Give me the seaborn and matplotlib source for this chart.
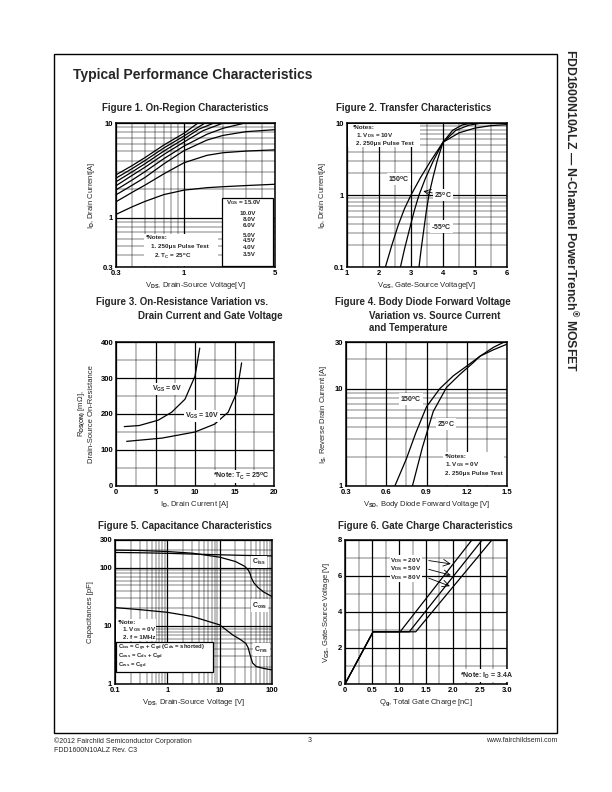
import numpy as np
import matplotlib
matplotlib.use("Agg")
import matplotlib.pyplot as plt
import matplotlib.ticker as mticker
from matplotlib.patches import Rectangle
import seaborn as sns

sns.set_theme(style="white")
plt.rcParams['font.family'] = ['Liberation Sans', 'DejaVu Sans']
plt.rcParams['font.weight'] = 'bold'
plt.rcParams['mathtext.fontset'] = 'custom'
plt.rcParams['mathtext.rm'] = 'Liberation Sans:bold'
plt.rcParams['mathtext.bf'] = 'Liberation Sans:bold'
plt.rcParams['mathtext.default'] = 'bf'

# ---- Figure 1: on-region, I_D vs V_DS per V_GS
vgs_labels = ['15.0V', '10.0V', '8.0V', '6.0V', '5.0V', '4.5V', '4.0V', '3.5V']
f1_x = [
    [0.3, 0.4, 0.5, 0.7, 1.0, 1.28],
    [0.3, 0.4, 0.5, 0.7, 1.0, 1.45],
    [0.3, 0.4, 0.5, 0.7, 1.0, 1.3, 1.7],
    [0.3, 0.4, 0.5, 0.7, 1.0, 1.4, 2.0],
    [0.3, 0.4, 0.5, 0.7, 1.0, 1.5, 2.0, 2.94],
    [0.3, 0.4, 0.5, 0.7, 1.0, 1.5, 2.0, 3.0, 5.0],
    [0.3, 0.4, 0.5, 0.7, 1.0, 1.5, 2.0, 3.0, 5.0],
    [0.3, 0.4, 0.5, 0.7, 1.0, 1.5, 2.0, 3.0, 5.0],
]
f1_y = [
    [2.83, 3.55, 4.3, 5.85, 7.8, 10],
    [2.61, 3.3, 4.0, 5.45, 7.3, 10],
    [2.39, 3.05, 3.7, 5.05, 6.8, 8.6, 10],
    [2.17, 2.8, 3.4, 4.65, 6.3, 8.3, 10],
    [1.96, 2.5, 3.05, 4.2, 5.7, 7.6, 8.8, 10],
    [1.74, 2.2, 2.65, 3.7, 5.1, 6.6, 7.4, 8.1, 8.5],
    [1.47, 1.85, 2.2, 2.9, 3.8, 4.55, 4.85, 5.05, 5.2],
    [1.08, 1.3, 1.48, 1.75, 1.95, 2.07, 2.12, 2.18, 2.25],
]

# ---- Figure 2: transfer
t150_x = [2.2, 2.4, 2.6, 2.8, 3.0, 3.3, 3.6, 4.0, 4.5, 5.0, 5.5, 6.0]
t150_y = [0.1, 0.2, 0.38, 0.65, 1.0, 1.75, 2.9, 5.4, 7.3, 8.5, 9.2, 9.5]
t25_x = [2.67, 2.8, 2.95, 3.1, 3.25, 3.45, 3.7, 4.0, 4.4, 4.8, 5.2]
t25_y = [0.1, 0.18, 0.33, 0.6, 1.0, 1.7, 3.0, 5.4, 7.9, 9.3, 10]
tm55_x = [3.25, 3.32, 3.4, 3.48, 3.56, 3.68, 3.82, 4.0, 4.3, 4.6, 4.9]
tm55_y = [0.1, 0.18, 0.33, 0.6, 1.0, 1.7, 3.0, 5.4, 7.9, 9.4, 10]

# ---- Figure 3: on-resistance
r6_x = [1.05, 2.95, 5.36, 7.05, 8.73, 10.0, 10.6]
r6_y = [165, 168, 183, 205, 241, 305, 383]
r10_x = [1.35, 5.8, 10.0, 12.5, 14.2, 15.3, 15.9]
r10_y = [124, 133, 150, 172, 205, 260, 342]

# ---- Figure 4: body diode
d150_x = [0.664, 0.75, 0.82, 0.9, 1.0, 1.1, 1.2, 1.3, 1.4, 1.5]
d150_y = [1.0, 1.9, 3.5, 6.5, 10, 13.5, 17, 21.5, 25, 28.5]
d25_x = [0.795, 0.87, 0.95, 1.05, 1.15, 1.25, 1.3, 1.4, 1.48]
d25_y = [1.0, 2.5, 5.8, 10.3, 14, 18.5, 21.5, 26.5, 30]

# ---- Figure 5: capacitance
ciss_x = [0.1, 0.3, 1, 3, 10, 30, 100]
ciss_y = [183, 181, 177, 172, 167, 163, 160]
coss_x = [0.1, 0.3, 1, 3, 10, 20, 30, 35, 38, 40, 45, 55, 70, 100]
coss_y = [201, 198, 190, 178, 152, 128, 106, 92, 80, 68, 55, 45, 38, 32]
crss_x = [0.1, 0.3, 1, 3, 10, 17.7, 25, 31.6, 35, 38, 42.5, 50, 70, 100]
crss_y = [20.6, 19, 17.1, 14.5, 10.4, 7.0, 5.8, 5.0, 4.2, 3.2, 2.3, 2.0, 1.85, 1.75]

# ---- Figure 6: gate charge
qg20 = [0, 0.52, 1.02, 2.35]
qg50 = [0, 0.52, 1.19, 2.54]
qg80 = [0, 0.52, 1.31, 2.72]
vgs_q = [0, 2.9, 2.9, 8.0]

W, H = 612, 792
fig = plt.figure(figsize=(W / 100, H / 100), dpi=100)


def px_axes(l, r, t, b):
    return fig.add_axes([l / W, 1 - b / H, (r - l) / W, (b - t) / H])


def style(ax):
    ax.set_axisbelow(True)
    ax.grid(which='major', color='black', lw=0.9)
    ax.grid(which='minor', color='black', lw=0.35)
    for s in ax.spines.values():
        s.set_color('black')
        s.set_linewidth(1.1)
    ax.tick_params(which='both', length=0, labelsize=5.5, colors='black')
    ax.tick_params(axis='x', pad=2.5)
    ax.tick_params(axis='y', pad=2)
    ax.xaxis.label.set_size(5.5)
    ax.yaxis.label.set_size(5.5)


def log_minor(axis):
    axis.set_minor_locator(mticker.LogLocator(base=10, subs=np.arange(2, 10)))
    axis.set_minor_formatter(mticker.NullFormatter())


def curve(ax, x, y, lw=0.9):
    sns.lineplot(x=x, y=y, ax=ax, color='black', lw=lw, estimator=None,
                 sort=False, legend=False)


def white_box(ax, x0, y0, w, h, edge=False):
    ax.add_patch(Rectangle((x0, y0), w, h, transform=ax.transAxes,
                           facecolor='white', edgecolor='black' if edge else 'none',
                           lw=0.9 if edge else 0, zorder=1.5))


wb = dict(boxstyle='square,pad=0.15', fc='white', ec='none')
wb_tight = dict(boxstyle='square,pad=0.05', fc='white', ec='none')
fs = 5.0   # in-plot labels
nfs = 4.5  # notes / legend text

# header / page
fig.add_artist(Rectangle((54 / W, 1 - 733 / H), (557 - 54) / W, (733 - 54) / H,
                         transform=fig.transFigure, fill=False, ec='black', lw=1))
fig.text(73 / W, 1 - 75 / H, 'Typical Performance Characteristics', fontsize=10,
         va='center', ha='left')
fig.text(571 / W, 1 - 49 / H, 'FDD1600N10ALZ — N-Channel PowerTrench$^{®}$ MOSFET',
         rotation=-90, va='top', ha='center', fontsize=8.8)
fig.text(54 / W, 1 - 741 / H, '©2012 Fairchild Semiconductor Corporation',
         fontsize=5, fontweight='normal', va='center')
fig.text(54 / W, 1 - 750 / H, 'FDD1600N10ALZ Rev. C3', fontsize=5,
         fontweight='normal', va='center')
fig.text(308 / W, 1 - 741 / H, '3', fontsize=5, fontweight='normal', va='center')
fig.text(557 / W, 1 - 741 / H, 'www.fairchildsemi.com', fontsize=5,
         fontweight='normal', va='center', ha='right')

tfs = 7
fig.text(185 / W, 1 - 108 / H, 'Figure 1. On-Region Characteristics', fontsize=tfs,
         ha='center', va='center')
fig.text(414 / W, 1 - 108 / H, 'Figure 2. Transfer Characteristics', fontsize=tfs,
         ha='center', va='center')
fig.text(96 / W, 1 - 302 / H, 'Figure 3. On-Resistance Variation vs.', fontsize=tfs,
         ha='left', va='center')
fig.text(138 / W, 1 - 316 / H, 'Drain Current and Gate Voltage', fontsize=tfs,
         ha='left', va='center')
fig.text(335 / W, 1 - 302 / H, 'Figure 4. Body Diode Forward Voltage', fontsize=tfs,
         ha='left', va='center')
fig.text(369 / W, 1 - 316 / H, 'Variation vs. Source Current', fontsize=tfs,
         ha='left', va='center')
fig.text(369 / W, 1 - 328 / H, 'and Temperature', fontsize=tfs, ha='left', va='center')
fig.text(185 / W, 1 - 526 / H, 'Figure 5. Capacitance Characteristics', fontsize=tfs,
         ha='center', va='center')
fig.text(425 / W, 1 - 526 / H, 'Figure 6. Gate Charge Characteristics', fontsize=tfs,
         ha='center', va='center')

# ---------------- Figure 1
ax1 = px_axes(116, 275, 123, 267)
ax1.set_xscale('log')
ax1.set_yscale('log')
for xs, ys in zip(f1_x, f1_y):
    curve(ax1, xs, ys)
ax1.set_xlim(0.3, 5)
ax1.set_ylim(0.3, 10)
ax1.set_xticks([0.3, 1, 5])
ax1.set_xticklabels(['0.3', '1', '5'])
ax1.set_yticks([0.3, 1, 10])
ax1.set_yticklabels(['0.3', '1', '10'])
log_minor(ax1.xaxis)
log_minor(ax1.yaxis)
style(ax1)
ax1.set_xlabel('V$_{DS}$, Drain-Source Voltage[V]', labelpad=2)
ax1.set_ylabel('I$_{D}$, Drain Current[A]', labelpad=4)
white_box(ax1, 0.668, 0.007, 0.322, 0.469, edge=True)
ax1.text(0.69, 0.448, 'V$_{GS}$ = ' + vgs_labels[0], transform=ax1.transAxes,
         fontsize=nfs, va='center', ha='left', zorder=3)
for lab, yy in zip(vgs_labels[1:], [0.373, 0.332, 0.29, 0.22, 0.181, 0.135, 0.089]):
    ax1.text(0.88, yy, lab, transform=ax1.transAxes, fontsize=nfs, va='center',
             ha='right', zorder=3)
white_box(ax1, 0.173, 0.007, 0.47, 0.225)
ax1.text(0.19, 0.207, '*Notes:', transform=ax1.transAxes, fontsize=nfs, va='center', zorder=3)
ax1.text(0.22, 0.14, '1. 250μs Pulse Test', transform=ax1.transAxes, fontsize=nfs,
         va='center', zorder=3)
ax1.text(0.24, 0.073, '2. T$_{C}$ = 25$^{o}$C', transform=ax1.transAxes, fontsize=nfs,
         va='center', zorder=3)

# ---------------- Figure 2
ax2 = px_axes(347, 507, 123, 267)
ax2.set_yscale('log')
curve(ax2, t150_x, t150_y)
curve(ax2, t25_x, t25_y)
curve(ax2, tm55_x, tm55_y)
ax2.set_xlim(1, 6)
ax2.set_ylim(0.1, 10)
ax2.set_xticks([1, 2, 3, 4, 5, 6])
ax2.xaxis.set_minor_locator(mticker.MultipleLocator(0.5))
ax2.set_yticks([0.1, 1, 10])
ax2.set_yticklabels(['0.1', '1', '10'])
log_minor(ax2.yaxis)
style(ax2)
ax2.set_xlabel('V$_{GS}$, Gate-Source Voltage[V]', labelpad=2)
ax2.set_ylabel('I$_{D}$, Drain Current[A]', labelpad=4)
white_box(ax2, 0.006, 0.83, 0.45, 0.163)
ax2.text(0.037, 0.97, '*Notes:', transform=ax2.transAxes, fontsize=nfs, va='center', zorder=3)
ax2.text(0.057, 0.916, '1. V$_{DS}$ = 10V', transform=ax2.transAxes, fontsize=nfs,
         va='center', zorder=3)
ax2.text(0.057, 0.86, '2. 250μs Pulse Test', transform=ax2.transAxes, fontsize=nfs,
         va='center', zorder=3)
ax2.text(2.62, 1.67, '150$^{o}$C', fontsize=fs, ha='center', va='center', bbox=wb, zorder=3)
ax2.text(4.0, 1.0, '25$^{o}$C', fontsize=fs, ha='center', va='center', bbox=wb, zorder=3)
ax2.text(3.95, 0.365, '-55$^{o}$C', fontsize=fs, ha='center', va='center', bbox=wb, zorder=3)
ax2.annotate('', xy=(3.3, 1.15), xytext=(3.75, 1.05),
             arrowprops=dict(arrowstyle='->', lw=0.6, color='black'))

# ---------------- Figure 3
ax3 = px_axes(116, 274, 342, 486)
curve(ax3, r6_x, r6_y)
curve(ax3, r10_x, r10_y)
ax3.set_xlim(0, 20)
ax3.set_ylim(0, 400)
ax3.set_xticks([0, 5, 10, 15, 20])
ax3.xaxis.set_minor_locator(mticker.MultipleLocator(2.5))
ax3.set_yticks([0, 100, 200, 300, 400])
ax3.yaxis.set_minor_locator(mticker.MultipleLocator(50))
style(ax3)
ax3.set_xlabel('I$_{D}$, Drain Current [A]', labelpad=2)
ax3.set_ylabel('R$_{DS(ON)}$ [mΩ],\nDrain-Source On-Resistance', labelpad=4)
ax3.text(6.54, 269, 'V$_{GS}$ = 6V', fontsize=fs, ha='center', va='center', bbox=wb, zorder=3)
ax3.text(10.9, 194, 'V$_{GS}$ = 10V', fontsize=fs, ha='center', va='center', bbox=wb, zorder=3)
ax3.text(0.79, 0.064, '*Note: T$_{C}$ = 25$^{o}$C', transform=ax3.transAxes, fontsize=fs,
         ha='center', va='center', bbox=wb, zorder=3)

# ---------------- Figure 4
ax4 = px_axes(346, 507, 342, 486)
ax4.set_yscale('log')
curve(ax4, d150_x, d150_y)
curve(ax4, d25_x, d25_y)
ax4.set_xlim(0.3, 1.5)
ax4.set_ylim(1, 30)
ax4.set_xticks([0.3, 0.6, 0.9, 1.2, 1.5])
ax4.set_xticklabels(['0.3', '0.6', '0.9', '1.2', '1.5'])
ax4.xaxis.set_minor_locator(mticker.MultipleLocator(0.15))
ax4.set_yticks([1, 10, 30])
ax4.set_yticklabels(['1', '10', '30'])
log_minor(ax4.yaxis)
style(ax4)
ax4.set_xlabel('V$_{SD}$, Body Diode Forward Voltage [V]', labelpad=2)
ax4.set_ylabel('I$_{S}$, Reverse Drain Current [A]', labelpad=4)
ax4.text(0.785, 7.8, '150$^{o}$C', fontsize=fs, ha='center', va='center', bbox=wb, zorder=3)
ax4.text(1.045, 4.28, '25$^{o}$C', fontsize=fs, ha='center', va='center', bbox=wb, zorder=3)
white_box(ax4, 0.6, 0.005, 0.383, 0.231)
ax4.text(0.615, 0.208, '*Notes:', transform=ax4.transAxes, fontsize=nfs, va='center', zorder=3)
ax4.text(0.615, 0.152, '1. V$_{GS}$ = 0V', transform=ax4.transAxes, fontsize=nfs,
         va='center', zorder=3)
ax4.text(0.615, 0.088, '2. 250μs Pulse Test', transform=ax4.transAxes, fontsize=nfs,
         va='center', zorder=3)

# ---------------- Figure 5
ax5 = px_axes(115, 272, 540, 684)
ax5.set_xscale('log')
ax5.set_yscale('log')
curve(ax5, ciss_x, ciss_y)
curve(ax5, coss_x, coss_y)
curve(ax5, crss_x, crss_y)
ax5.set_xlim(0.1, 100)
ax5.set_ylim(1, 300)
ax5.set_xticks([0.1, 1, 10, 100])
ax5.set_xticklabels(['0.1', '1', '10', '100'])
ax5.set_yticks([1, 10, 100, 300])
ax5.set_yticklabels(['1', '10', '100', '300'])
log_minor(ax5.xaxis)
log_minor(ax5.yaxis)
style(ax5)
ax5.set_xlabel('V$_{DS}$, Drain-Source Voltage [V]', labelpad=2)
ax5.set_ylabel('Capacitances [pF]', labelpad=4)
ax5.text(57, 127, 'C$_{iss}$', fontsize=fs, ha='center', va='center', bbox=wb, zorder=3)
ax5.text(57, 22.4, 'C$_{oss}$', fontsize=fs, ha='center', va='center', bbox=wb, zorder=3)
ax5.text(63, 3.9, 'C$_{rss}$', fontsize=fs, ha='center', va='center', bbox=wb, zorder=3)
white_box(ax5, 0.006, 0.296, 0.257, 0.155)
ax5.text(0.021, 0.43, '*Note:', transform=ax5.transAxes, fontsize=nfs, va='center', zorder=3)
ax5.text(0.042, 0.378, '1. V$_{GS}$ = 0V', transform=ax5.transAxes, fontsize=nfs,
         va='center', zorder=3)
ax5.text(0.053, 0.326, '2. f = 1MHz', transform=ax5.transAxes, fontsize=nfs,
         va='center', zorder=3)
white_box(ax5, 0.006, 0.083, 0.62, 0.206, edge=True)
ax5.text(0.021, 0.252, 'C$_{iss}$ = C$_{gs}$ + C$_{gd}$ (C$_{ds}$ = shorted)',
         transform=ax5.transAxes, fontsize=4.2, va='center', zorder=3)
ax5.text(0.021, 0.188, 'C$_{oss}$ = C$_{ds}$ + C$_{gd}$', transform=ax5.transAxes,
         fontsize=4.2, va='center', zorder=3)
ax5.text(0.021, 0.124, 'C$_{rss}$ = C$_{gd}$', transform=ax5.transAxes, fontsize=4.2,
         va='center', zorder=3)

# ---------------- Figure 6
ax6 = px_axes(345, 507, 540, 684)
curve(ax6, qg20, vgs_q)
curve(ax6, qg50, vgs_q)
curve(ax6, qg80, vgs_q)
ax6.set_xlim(0, 3.0)
ax6.set_ylim(0, 8)
ax6.set_xticks([0, 0.5, 1.0, 1.5, 2.0, 2.5, 3.0])
ax6.set_xticklabels(['0', '0.5', '1.0', '1.5', '2.0', '2.5', '3.0'])
ax6.xaxis.set_minor_locator(mticker.MultipleLocator(0.25))
ax6.set_yticks([0, 2, 4, 6, 8])
ax6.yaxis.set_minor_locator(mticker.MultipleLocator(1))
style(ax6)
ax6.set_xlabel('Q$_{g}$, Total Gate Charge [nC]', labelpad=2)
ax6.set_ylabel('V$_{GS}$, Gate-Source Voltage [V]', labelpad=4)
for lab, ty, hx, hy in [('20V', 6.88, 2.01, 6.65), ('50V', 6.41, 2.01, 6.0),
                        ('80V', 5.94, 1.99, 5.38)]:
    ax6.text(0.84, ty, 'V$_{DS}$ = ' + lab, fontsize=4.6, ha='left', va='center',
             bbox=wb_tight, zorder=3)
    ax6.annotate('', xy=(hx, hy), xytext=(1.5, ty),
                 arrowprops=dict(arrowstyle='->', lw=0.6, color='black'))
ax6.text(2.62, 0.47, '*Note: I$_{D}$ = 3.4A', fontsize=fs, ha='center', va='center',
         bbox=wb, zorder=3)

fig.savefig('out.png', dpi=100)
